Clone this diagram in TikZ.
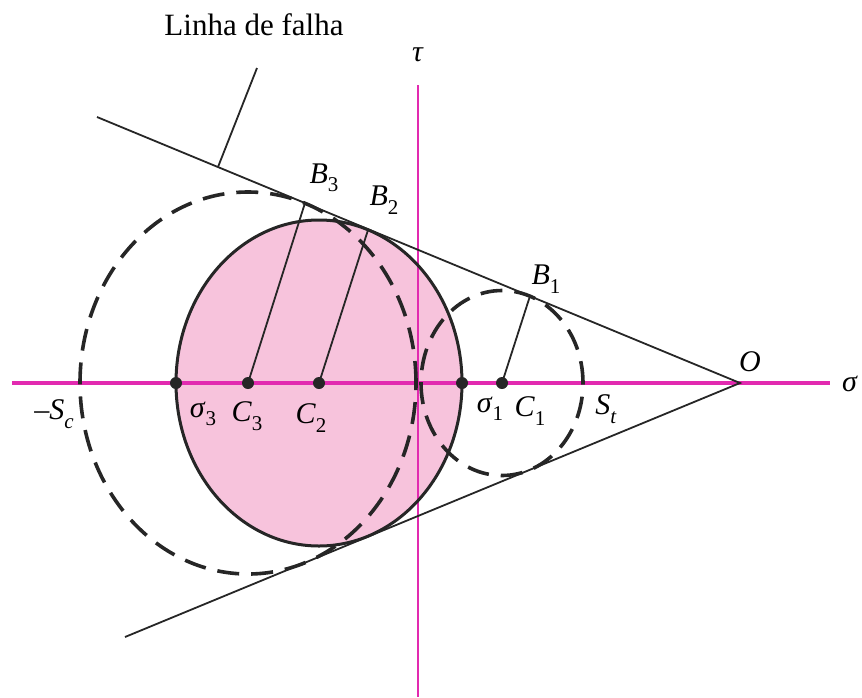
\documentclass[tikz,border=0pt]{standalone}
\usepackage{fontspec}
\setmainfont{Liberation Serif}
\usetikzlibrary{positioning}
\definecolor{pmag}{HTML}{E22AB0}
\definecolor{ppink}{HTML}{F7C3DC}
\definecolor{pink}{HTML}{262626}
\newcommand{\symb}[2]{\textit{#1}\raisebox{-0.28em}{\fontsize{21}{22}\selectfont #2}}

\begin{document}
\begin{tikzpicture}[
    x=1pt,y=-1pt,
    font=\fontsize{30}{32}\selectfont,
    ax/.style={draw=pmag,line width=3.5pt},
    ln/.style={draw=pink,line width=1.8pt},
    crc/.style={draw=pink,line width=3pt},
    dsh/.style={draw=pink,line width=3.6pt,dash pattern=on 22pt off 12pt},
    dot/.style={circle,fill=pink,inner sep=0pt,minimum size=12pt},
    lbl/.style={inner sep=0pt}
  ]
    \useasboundingbox (0,0) rectangle (862,697);

    % Points on the sigma axis
    \coordinate (o)  at (740,383);
    \coordinate (c3) at (248,383);
    \coordinate (c2) at (319,383);
    \coordinate (c1) at (502,383);
    \coordinate (b3) at (305,203);
    \coordinate (b2) at (368,230);
    \coordinate (b1) at (530,296);
    \coordinate (ue) at (97,117);
    \coordinate (le) at (125,637);
    \coordinate (lt) at (257,68);
    \coordinate (lf) at (218,167);
    \coordinate (sl) at (12,383);
    \coordinate (sr) at (830,383);
    \coordinate (tt) at (418,85);
    \coordinate (tb) at (418,697);

    % Filled circle
    \fill[ppink] (c2) ellipse (143pt and 163pt);

    % Axes
    \draw[ax] (sl) -- (sr);
    \draw[ax,line width=2.6pt] (tt) -- (tb);

    % Circles
    \draw[crc] (c2) ellipse (143pt and 163pt);
    \draw[dsh] (c3) ellipse (168pt and 191pt);
    \draw[dsh] (c1) ellipse (81pt and 92.5pt);

    % Failure lines
    \draw[ln] (ue) -- (o) -- (le);
    \draw[ln] (lt) -- (lf);
    \draw[ln] (c3) -- (b3);
    \draw[ln] (c2) -- (b2);
    \draw[ln] (c1) -- (b1);

    % Dots
    \node[dot] (s3) at (176,383) {};
    \node[dot] (d3) at (c3) {};
    \node[dot] (d2) at (c2) {};
    \node[dot] (s1) at (462,383) {};
    \node[dot] (d1) at (c1) {};

    % Labels
    \node[lbl,font=\fontsize{31}{33}\selectfont] (falha) at (254,25) {Linha de falha};
    \node[lbl] (tau) at (418,55) {\textit{τ}};
    \node[lbl] (sig) at (850,384) {\textit{σ}};
    \node[lbl] (ol)  at (750,362) {\textit{O}};
    \node[lbl] (lb3) at (324,178) {\symb{B}{3}};
    \node[lbl] (lb2) at (384,200) {\symb{B}{2}};
    \node[lbl] (lb1) at (546,279) {\symb{B}{1}};
    \node[lbl] (lsc) at (54,414) {\textit{–S}\raisebox{-0.28em}{\fontsize{21}{22}\selectfont\textit{c}}};
    \node[lbl] (ls3) at (203,414) {\symb{σ}{3}};
    \node[lbl] (lc3) at (247,416) {\symb{C}{3}};
    \node[lbl] (lc2) at (311,418) {\symb{C}{2}};
    \node[lbl] (ls1) at (490,409) {\symb{σ}{1}};
    \node[lbl] (lc1) at (530,411) {\symb{C}{1}};
    \node[lbl] (lst) at (606,409) {\textit{S}\raisebox{-0.28em}{\fontsize{21}{22}\selectfont\textit{t}}};

  \end{tikzpicture}
\end{document}
